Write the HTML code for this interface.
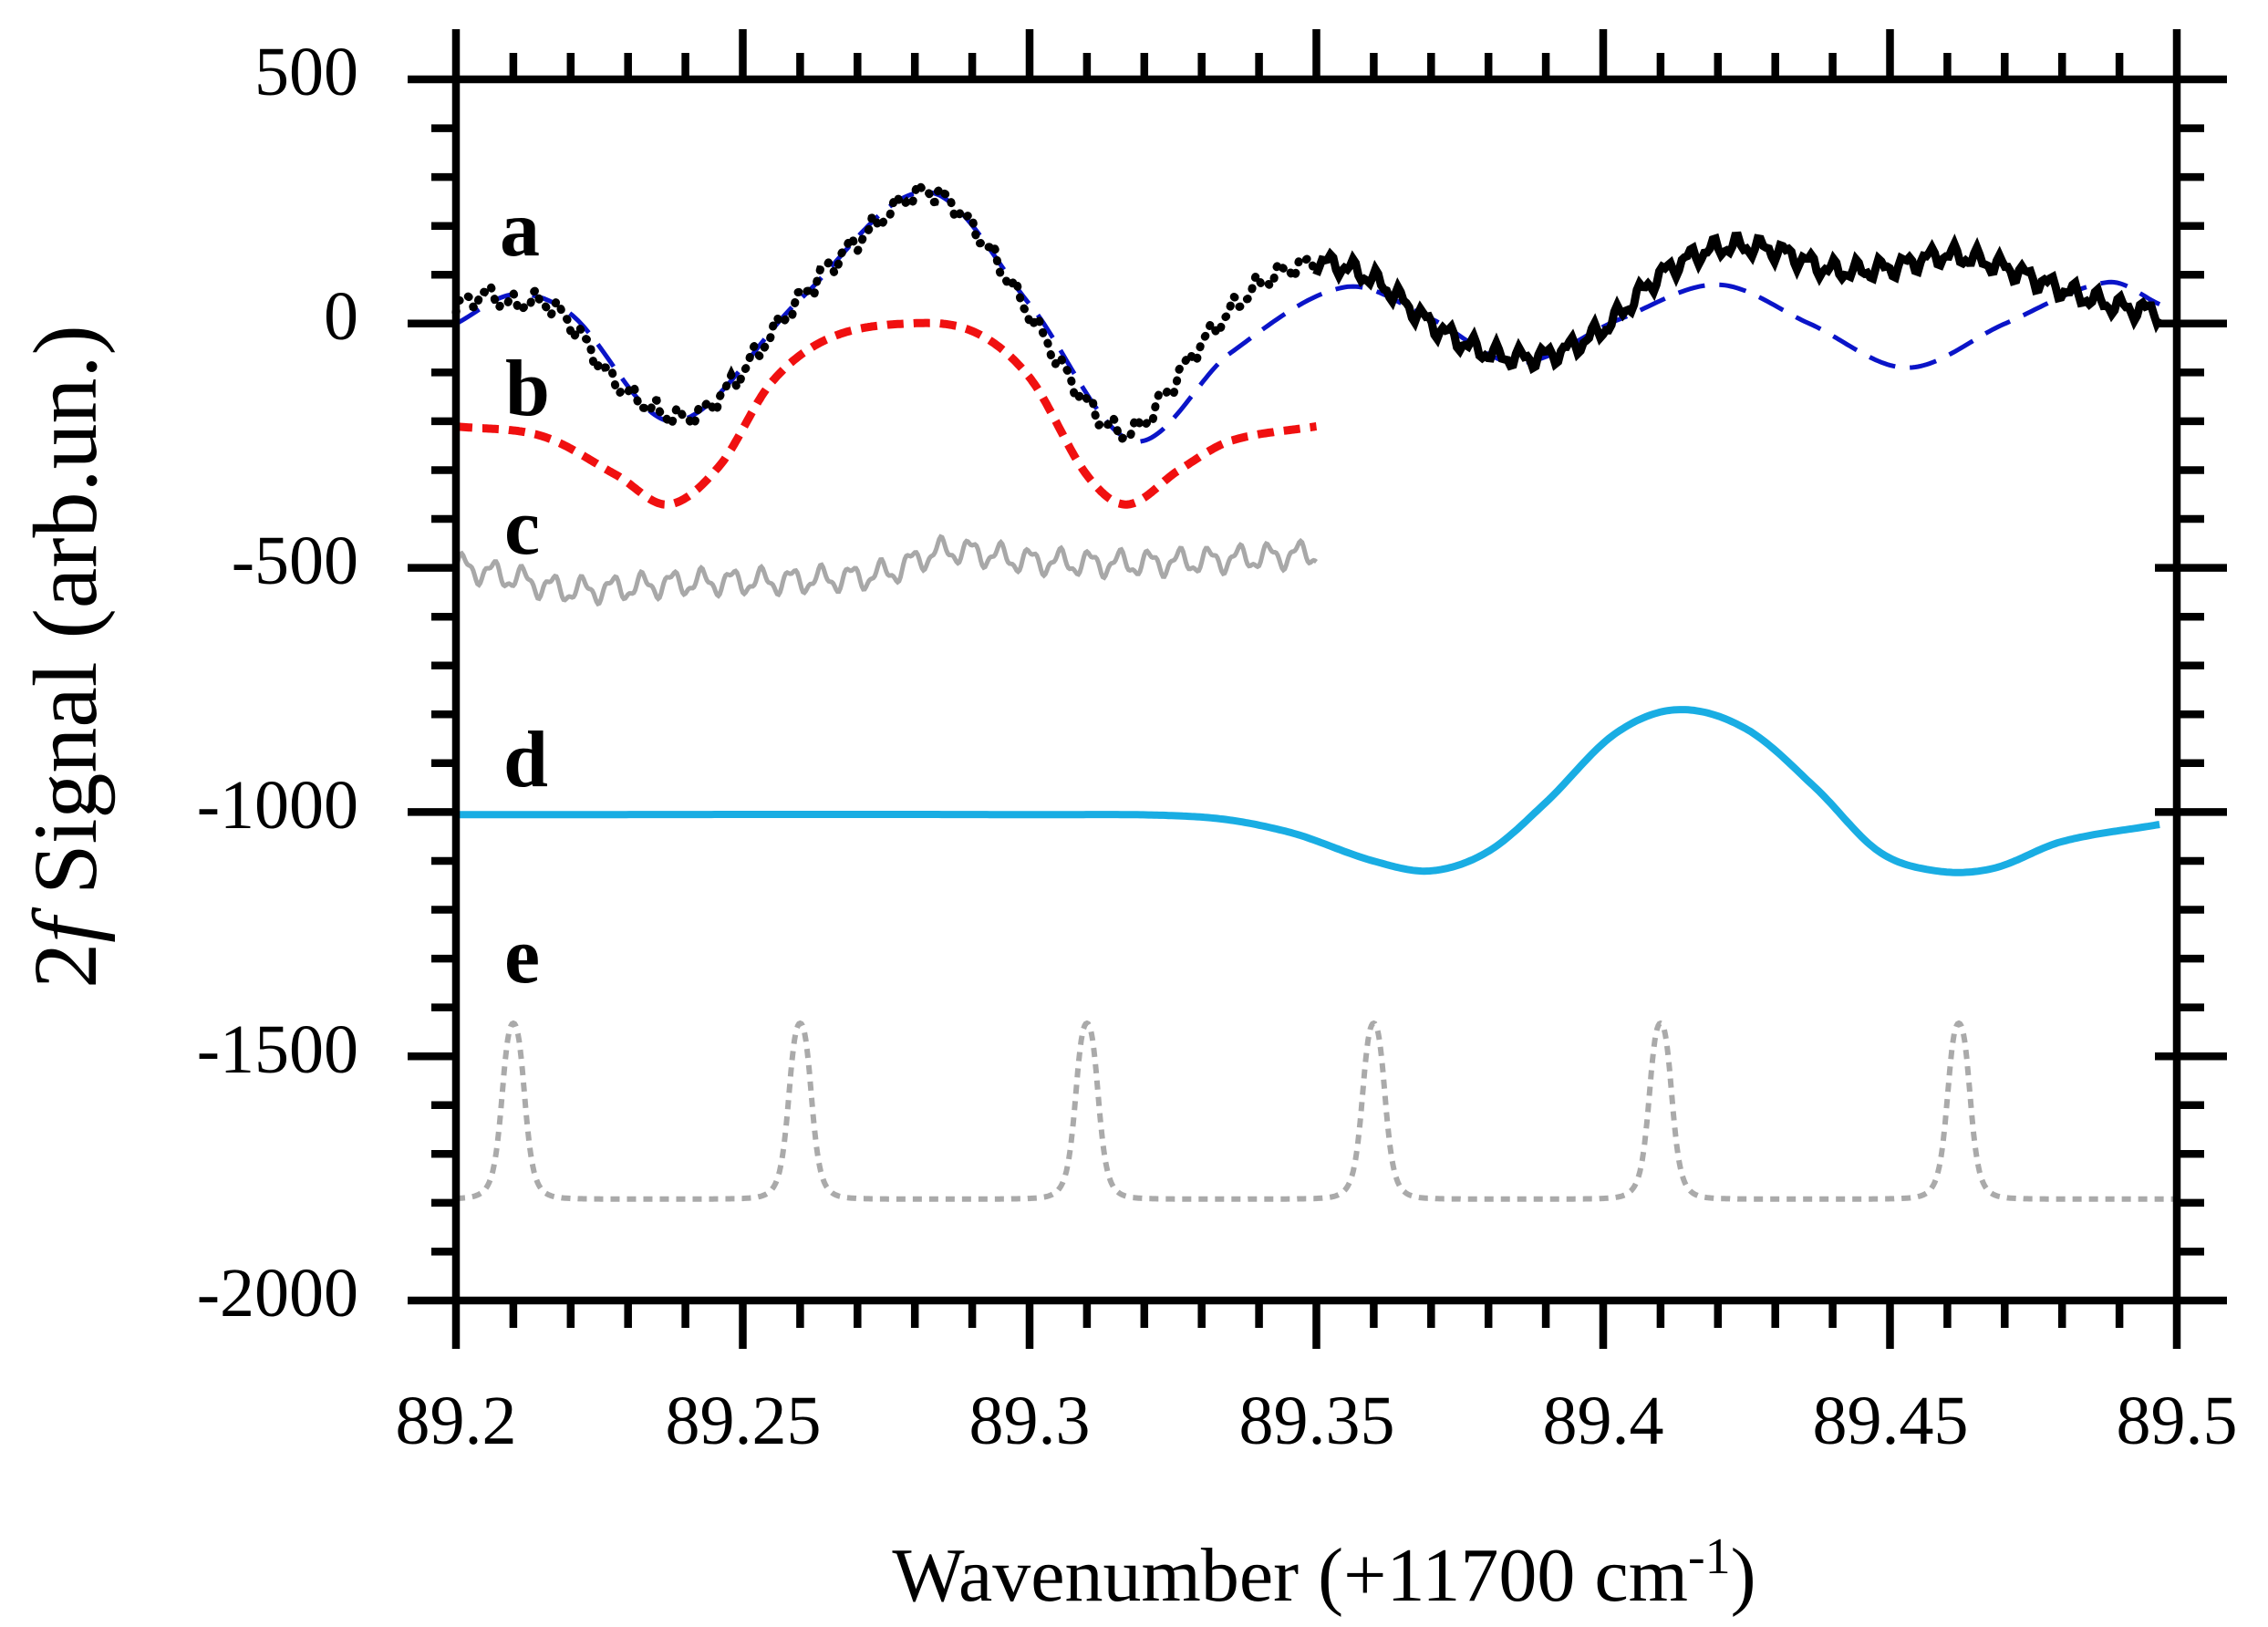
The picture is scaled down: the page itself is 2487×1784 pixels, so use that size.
<!DOCTYPE html>
<html><head><meta charset="utf-8"><style>
html,body{margin:0;padding:0;background:#fff;}
svg{display:block;}
text{font-family:"Liberation Serif",serif;}
</style></head><body>
<svg id="s" width="2487" height="1784" viewBox="0 0 2487 1784" xmlns="http://www.w3.org/2000/svg">
<g id="data"></g>
<g id="axes" stroke="#000" stroke-width="8.5" fill="none"></g>
<g font-size="76" text-anchor="end" fill="#000">
<text x="393" y="104">500</text>
<text x="393" y="372">0</text>
<text x="393" y="640">-500</text>
<text x="393" y="908">-1000</text>
<text x="393" y="1176">-1500</text>
<text x="393" y="1443">-2000</text>
</g>
<g font-size="76" text-anchor="middle" fill="#000">
<text x="500" y="1583">89.2</text>
<text x="815" y="1583">89.25</text>
<text x="1129" y="1583">89.3</text>
<text x="1444" y="1583">89.35</text>
<text x="1758" y="1583">89.4</text>
<text x="2073" y="1583">89.45</text>
<text x="2387" y="1583">89.5</text>
</g>
<text x="1452" y="1755" font-size="84" text-anchor="middle">Wavenumber (+11700 cm<tspan dy="-30" font-size="56">-1</tspan><tspan dy="30">)</tspan></text>
<text transform="translate(105,720) rotate(-90)" font-size="100" text-anchor="middle">2<tspan font-style="italic">f</tspan> Signal (arb.un.)</text>
<g font-size="88" font-weight="bold" fill="#000">
<text x="548" y="280">a</text>
<text x="554" y="455">b</text>
<text x="553" y="607">c</text>
<text x="552" y="862">d</text>
<text x="553" y="1077">e</text>
</g>
</svg>
<script>
var X=function(x){return 500+(x-89.2)*6290;},Y=function(v){return 355-v*0.5356;};
var NS="http://www.w3.org/2000/svg";
function interp(k,x){
 for(var i=0;i<k.length-1;i++){if(x<=k[i+1][0]||i==k.length-2){
  var p0=k[Math.max(i-1,0)],p1=k[i],p2=k[i+1],p3=k[Math.min(i+2,k.length-1)];
  var t=(x-p1[0])/(p2[0]-p1[0]);t=Math.max(0,Math.min(1,t));
  var m1=(p2[1]-p0[1])/(p2[0]-p0[0])*(p2[0]-p1[0]);var m2=(p3[1]-p1[1])/(p3[0]-p1[0])*(p2[0]-p1[0]);
  var t2=t*t,t3=t2*t;
  return (2*t3-3*t2+1)*p1[1]+(t3-2*t2+t)*m1+(-2*t3+3*t2)*p2[1]+(t3-t2)*m2;}}
}
function path(k,x0,x1,noise,attrs,n){
 var d="";n=n||600;
 for(var i=0;i<=n;i++){var x=x0+(x1-x0)*i/n;var v=interp(k,x)+(noise?noise(x):0);d+=(i?"L":"M")+X(x).toFixed(1)+","+Y(v).toFixed(1);}
 var p=document.createElementNS(NS,"path");p.setAttribute("d",d);p.setAttribute("fill","none");
 for(var a in attrs)p.setAttribute(a,attrs[a]);document.getElementById("data").appendChild(p);
}
var blue=[[89.2,0],[89.21,60],[89.22,20],[89.238,-200],[89.26,50],[89.282,270],[89.3,40],[89.318,-240],[89.335,-60],[89.355,75],[89.37,10],[89.385,-80],[89.403,10],[89.42,80],[89.436,0],[89.453,-90],[89.47,0],[89.488,85],[89.497,40]];
var black=[[89.2,30],[89.205,60],[89.21,40],[89.215,45],[89.22,0],[89.228,-120],[89.238,-190],[89.245,-160],[89.26,50],[89.27,170],[89.282,270],[89.29,200],[89.3,20],[89.31,-160],[89.318,-220],[89.33,-40],[89.34,80],[89.35,125],[89.36,90],[89.37,0],[89.38,-60],[89.39,-65],[89.4,-10],[89.41,100],[89.42,155],[89.43,150],[89.44,110],[89.45,115],[89.46,140],[89.47,115],[89.48,70],[89.49,35],[89.497,25]];
var red=[[89.2,-210],[89.215,-230],[89.228,-310],[89.237,-370],[89.246,-290],[89.255,-120],[89.265,-30],[89.278,0],[89.29,-15],[89.3,-110],[89.31,-310],[89.317,-370],[89.326,-300],[89.335,-240],[89.35,-210]];
var gray=[[89.2,-495],[89.21,-520],[89.22,-545],[89.24,-530],[89.26,-525],[89.275,-510],[89.285,-465],[89.3,-485],[89.32,-490],[89.35,-470]];
var cyan=[[89.2,-1005],[89.3,-1005],[89.33,-1010],[89.345,-1040],[89.36,-1100],[89.37,-1120],[89.38,-1080],[89.39,-980],[89.402,-840],[89.413,-790],[89.425,-830],[89.437,-950],[89.448,-1080],[89.458,-1120],[89.468,-1115],[89.48,-1060],[89.497,-1025]];
var bn=function(x){return 16*Math.sin(x*1500)+9*Math.sin(x*3300+1);};
path(blue,89.2,89.497,null,{stroke:"#0a14c8","stroke-width":5,"stroke-dasharray":"30 16"});
path(black,89.2,89.35,bn,{stroke:"#000","stroke-width":9,"stroke-dasharray":"1 12","stroke-linecap":"round"},300);
path(black,89.35,89.497,bn,{stroke:"#000","stroke-width":9},300);
path(gray,89.2,89.35,function(x){return 22*Math.sin((x-89.2)*2*Math.PI/0.0052)+8*Math.sin(x*3000);},{stroke:"#a8a8a8","stroke-width":5});
path(red,89.2,89.35,null,{stroke:"#f01010","stroke-width":9,"stroke-dasharray":"18 11"});
path(cyan,89.2,89.497,null,{stroke:"#19ade3","stroke-width":8});
(function(){var d="",pk=[89.21,89.26,89.31,89.36,89.41,89.462];for(var i=0;i<=1500;i++){var x=89.2+0.3*i/1500;var v=-1792;pk.forEach(function(c){var u=(x-c)/0.0022;v+=360/(1+u*u*u*u*0.6+u*u*0.4);});d+=(i?"L":"M")+X(x).toFixed(1)+","+Y(v).toFixed(1);}
var p=document.createElementNS(NS,"path");p.setAttribute("d",d);p.setAttribute("fill","none");p.setAttribute("stroke","#aaa");p.setAttribute("stroke-width",6);p.setAttribute("stroke-dasharray","10 8");document.getElementById("data").appendChild(p);})();
var g=document.getElementById("axes"),s="";
s+="M447,87H2442M447,1426H2442M500,32V1479M2387,32V1479";
for(var i=0;i<=30;i++){var x=500+i*62.9;var maj=i%5==0;s+="M"+x.toFixed(1)+",87V"+(maj?32:58)+"M"+x.toFixed(1)+",1426V"+(maj?1479:1456);}
for(var j=0;j<=25;j++){var y=87+j*53.56;var maj=j%5==0;s+="M"+(maj?447:473)+","+y.toFixed(1)+"H500M2387,"+y.toFixed(1)+"H"+(maj?2442:2417);if(maj)s+="M2363,"+y.toFixed(1)+"H2387";}
var p=document.createElementNS(NS,"path");p.setAttribute("d",s);g.appendChild(p);
</script>
</body></html>
